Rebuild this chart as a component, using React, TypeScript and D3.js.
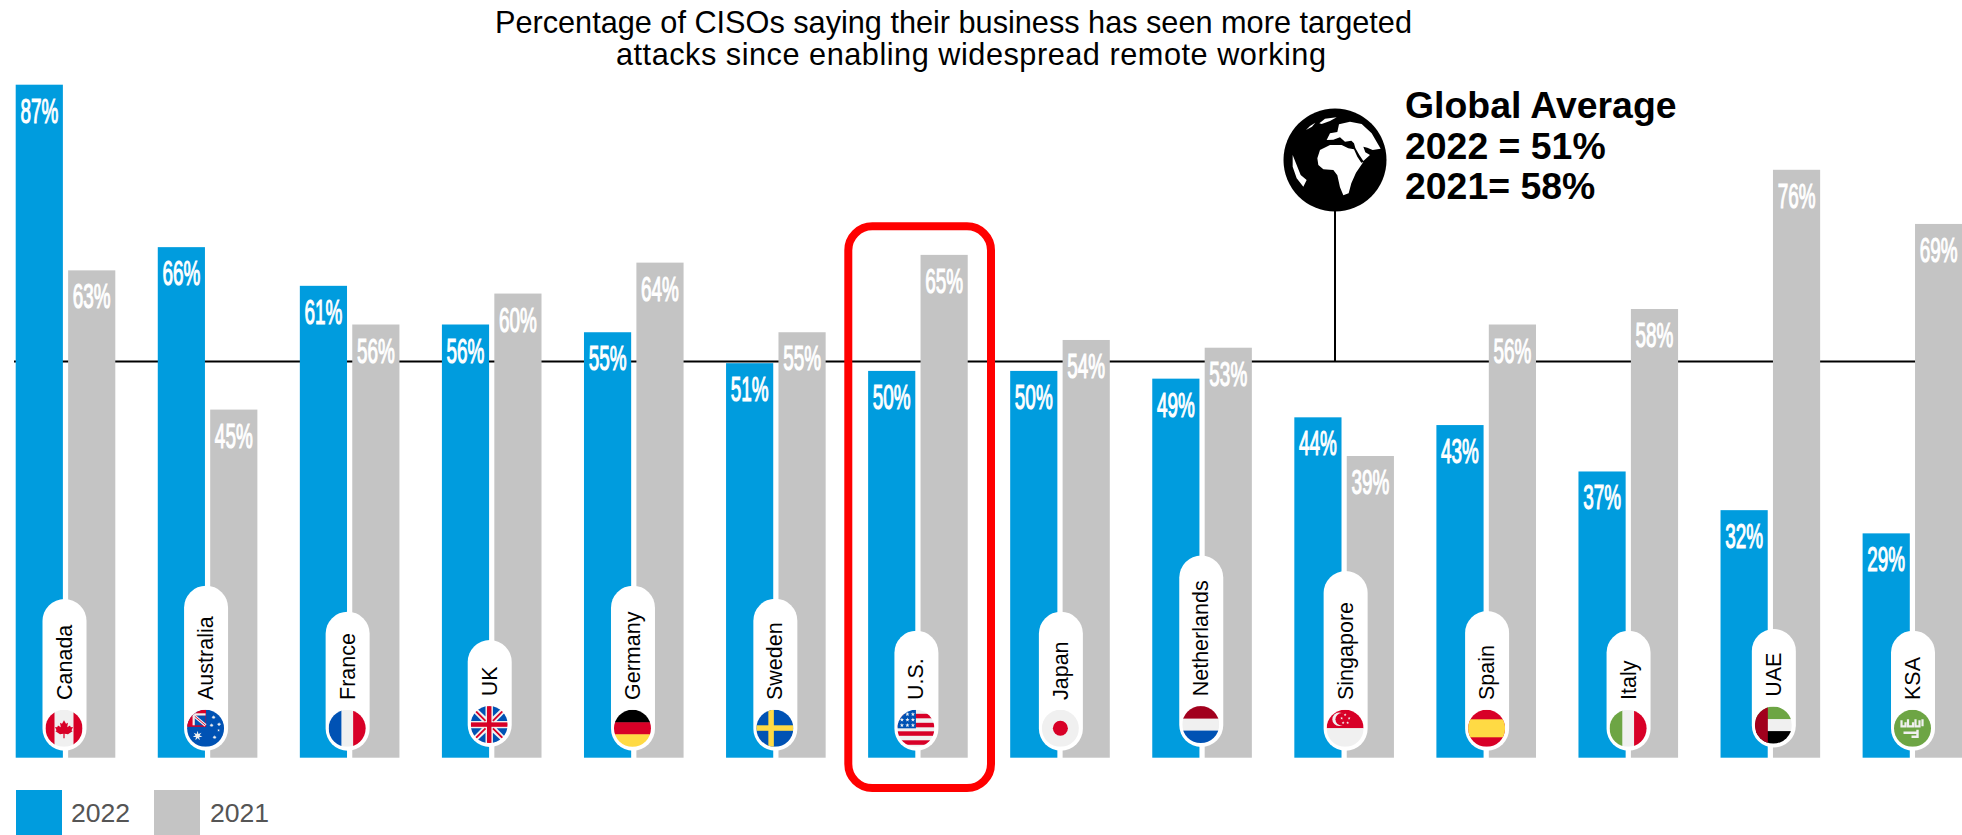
import React from "react";
import * as d3 from "d3";

const countries = ["Canada","Australia","France","UK","Germany","Sweden","U.S.","Japan","Netherlands","Singapore","Spain","Italy","UAE","KSA"];
const values2022 = [87,66,61,56,55,51,50,50,49,44,43,37,32,29];
const values2021 = [63,45,56,60,64,55,65,54,53,39,56,58,76,69];
const seriesNames = ["2022","2021"];
const titleLines = ["Percentage of CISOs saying their business has seen more targeted","attacks since enabling widespread remote working"];
const averageLines = ["Global Average","2022 = 51%","2021= 58%"];

// layout of the title lines and the name pills (not data)
const titleStarts = [495, 616];
const titleWidths = [917, 710];
const pillTops = [599,585.7,611.7,640,585.7,598.7,630.7,611.7,555.6,571,611,630.7,629,630.7];
const pillBottoms = [750.7,750.7,750.7,747,750.7,750.7,750.7,750.7,747,750.7,750.7,750.7,747.5,750.7];
const pillShift = [-1,-1.5,-2,-2,-0.8,-0.5,-1.5,0.9,-0.8,1.5,0.9,0.3,3.5,0.6];

const BLUE = "#009cde", GRAY = "#c4c4c4", SANS = "'Liberation Sans', Arial, sans-serif";
const R = "#d80027", B = "#0052b4", W = "#f0f0f0", Y = "#ffda44", G = "#6da544", DR = "#a2001d";

const xGroup = d3.scaleBand<string>().domain(countries).range([15.7, 15.7 + 142.07 * 14]).paddingInner(0).align(0);
const xInner = d3.scaleBand<string>().domain(seriesNames).range([0, 99.6]).paddingInner(0.1);
const y = d3.scaleLinear().domain([0, 87]).range([757.7, 84.7]);
const avgY = 361.6;

const Rc = (x:number,y:number,w:number,h:number,f:string) => <rect x={x} y={y} width={w} height={h} fill={f}/>;
const star = (cx:number,cy:number,r:number,n=5) => {
  const pts = d3.range(n*2).map(i=>{const a=-Math.PI/2+i*Math.PI/n;const q=i%2?r*0.42:r;return `${cx+q*Math.cos(a)},${cy+q*Math.sin(a)}`;}).join(" ");
  return <polygon points={pts} fill="#f0f0f0"/>;
};
const Jack = ({x,y,w,h}:{x:number,y:number,w:number,h:number}) => {
  const s = Math.min(w,h);
  return <g>
    {Rc(x,y,w,h,W)}
    <polygon points={`${x+w*0.1},${y} ${x+w*0.4},${y} ${x+w*0.4},${y+h*0.28}`} fill={B}/>
    <polygon points={`${x+w*0.6},${y} ${x+w*0.9},${y} ${x+w*0.6},${y+h*0.28}`} fill={B}/>
    <polygon points={`${x+w*0.1},${y+h} ${x+w*0.4},${y+h} ${x+w*0.4},${y+h*0.72}`} fill={B}/>
    <polygon points={`${x+w*0.6},${y+h} ${x+w*0.9},${y+h} ${x+w*0.6},${y+h*0.72}`} fill={B}/>
    <polygon points={`${x},${y+h*0.1} ${x},${y+h*0.4} ${x+w*0.3},${y+h*0.4}`} fill={B}/>
    <polygon points={`${x},${y+h*0.9} ${x},${y+h*0.6} ${x+w*0.3},${y+h*0.6}`} fill={B}/>
    <polygon points={`${x+w},${y+h*0.1} ${x+w},${y+h*0.4} ${x+w*0.7},${y+h*0.4}`} fill={B}/>
    <polygon points={`${x+w},${y+h*0.9} ${x+w},${y+h*0.6} ${x+w*0.7},${y+h*0.6}`} fill={B}/>
    <path d={`M${x},${y} L${x+w*0.4},${y+h*0.4} M${x+w},${y} L${x+w*0.6},${y+h*0.4} M${x},${y+h} L${x+w*0.4},${y+h*0.6} M${x+w},${y+h} L${x+w*0.6},${y+h*0.6}`} stroke={R} strokeWidth={s*0.05}/>
    {Rc(x+w*0.44,y,w*0.12,h,R)}
    {Rc(x,y+h*0.44,w,h*0.12,R)}
  </g>;
};
const r = 18.5;
const flags: Record<string,React.ReactNode> = {
  Canada: <g>{Rc(-r,-r,37,37,W)}{Rc(-r,-r,9,37,R)}{Rc(r-9,-r,9,37,R)}
    <path d="M0,-8 L2,-4.5 L4,-5.5 L3.2,-1 L6,-2.8 L6.8,-1 L9,-1.2 L7.5,2 L8.5,3 L4,6 L0.6,5.5 L0.6,10 L-0.6,10 L-0.6,5.5 L-4,6 L-8.5,3 L-7.5,2 L-9,-1.2 L-6.8,-1 L-6,-2.8 L-3.2,-1 L-4,-5.5 L-2,-4.5 Z" fill={R}/></g>,
  Australia: <g>{Rc(-r,-r,37,37,B)}
    {Rc(-r,-r,19,r-1.5,R)}
    {Rc(-11,-13,11,10,B)}
    <path d="M-12,-13 L0,-3" stroke={W} strokeWidth={3}/>
    <path d="M-12,-13 L0,-3" stroke={R} strokeWidth={0.9}/>
    {Rc(-11,-15,11,2.2,W)}{Rc(-13,-15,2.2,12,W)}
    {star(-8,7.5,5,7)}{star(8,-11,2.2,7)}{star(13.5,-4,2.2,7)}{star(6,-3,2.2,7)}{star(9,9,2.2,7)}{star(13,2,1.4,5)}</g>,
  France: <g>{Rc(-r,-r,13,37,B)}{Rc(-5.5,-r,12,37,W)}{Rc(6,-r,13,37,R)}</g>,
  UK: <Jack x={-r} y={-r} w={37} h={37}/>,
  Germany: <g>{Rc(-r,-r,37,13,"#000")}{Rc(-r,-6,37,12.5,R)}{Rc(-r,6,37,13,Y)}</g>,
  Sweden: <g>{Rc(-r,-r,37,37,B)}{Rc(-6.5,-r,5.5,37,Y)}{Rc(-r,-3,37,5.5,Y)}</g>,
  "U.S.": <g>{Rc(-r,-r,37,37,W)}
    {[-14.5,-5.5,3,12].map(v=><React.Fragment key={v}>{Rc(-r,v,37,4.5,R)}</React.Fragment>)}
    {Rc(-r,-r,18.5,18.5,B)}
    {d3.range(3).flatMap(a=>d3.range(3).map(b=><React.Fragment key={a+"-"+b}>{star(-14+b*5.5,-14+a*5.5,2.2)}</React.Fragment>))}</g>,
  Japan: <g>{Rc(-r,-r,37,37,W)}<circle r={7.5} fill={R}/></g>,
  Netherlands: <g>{Rc(-r,-r,37,13,DR)}{Rc(-r,-6,37,12.5,W)}{Rc(-r,6,37,13,B)}</g>,
  Singapore: <g>{Rc(-r,-r,37,18.5,R)}{Rc(-r,0,37,18.5,W)}
    <circle cx={-6} cy={-9} r={6.8} fill={W}/><circle cx={-3.5} cy={-9} r={6.2} fill={R}/>
    {star(0,-13.5,1.5)}{star(-3.5,-10,1.5)}{star(4,-10,1.5)}{star(-2,-5.5,1.5)}{star(2.5,-5.5,1.5)}</g>,
  Spain: <g>{Rc(-r,-r,37,37,R)}{Rc(-r,-9,37,18,Y)}</g>,
  Italy: <g>{Rc(-r,-r,13,37,G)}{Rc(-5.5,-r,12,37,W)}{Rc(6,-r,13,37,R)}</g>,
  UAE: <g>{Rc(-r,-r,37,13,G)}{Rc(-r,-6,37,12.5,W)}{Rc(-r,6,37,13,"#000")}{Rc(-r,-r,13,37,DR)}</g>,
  KSA: <g>{Rc(-r,-r,37,37,G)}
    <path d="M-11,-8 V-2 H-7 V-6 M-4.5,-9 V-2 H0.5 V-6 M3,-9 V-2 H7 V-8 M10,-9 V-2" fill="none" stroke={W} strokeWidth={2.2}/>
    <path d="M-9,4.5 H5" stroke={W} strokeWidth={2.6}/>
    <path d="M5,1.5 V8.5 H-1" fill="none" stroke={W} strokeWidth={2.4}/></g>,
};

// continents of the globe icon, traced on a 3x grid whose origin is the globe's top-left offset
const globeLand = [
  "M112,175 L120,150 L150,135 L185,135 L205,145 L222,148 L232,170 L244,188 L250,186 L228,218 L214,250 L206,280 L190,286 L180,262 L172,226 L160,210 L130,208 L115,195 Z",
  "M140,120 L150,100 L172,96 L177,73 L210,65 L245,72 L275,100 L302,146 L278,150 L262,143 L250,140 L256,157 L270,165 L250,183 L238,165 L226,144 L222,130 L214,122 L195,125 L180,112 L160,119 Z",
  "M38,165 L50,195 L62,225 L80,240 L70,260 L50,235 L38,200 Z",
  "M118,70 L135,56 L170,52 L150,63 L125,72 Z",
  "M78,90 L90,78 L106,68 L96,80 Z",
];

export default function App() {
  return (
    <svg width={1962} height={835} viewBox="0 0 1962 835" style={{position:"absolute",left:0,top:0,background:"#fff"}} fontFamily={SANS}>
      <defs><clipPath id="fc"><circle r={r}/></clipPath></defs>
      <g fontSize={30.7} fill="#000">
        {titleLines.map((t,i)=><text key={t} x={titleStarts[i]} y={33+i*32} textLength={titleWidths[i]} lengthAdjust="spacing">{t}</text>)}
      </g>
      <line x1={14} x2={1962} y1={avgY} y2={avgY} stroke="#000" strokeWidth={2}/>
      <line x1={1335} x2={1335} y1={200} y2={avgY} stroke="#000" strokeWidth={2}/>
      <g transform="translate(1335,160)">
        <circle r={51.5} fill="#000"/>
        <g transform="translate(-55,-60) scale(0.3333)">
          {globeLand.map((d,i)=><path key={i} d={d} fill="#fff"/>)}
        </g>
      </g>
      <g fontSize={37.4} fontWeight={700} fill="#000">
        {averageLines.map((t,i)=><text key={t} x={1405} y={118+i*40.7}>{t}</text>)}
      </g>
      {countries.map((c,i)=>{
        const gx = xGroup(c)!;
        return <g key={c}>
          {seriesNames.map((s,k)=>{
            const v = (k===0?values2022:values2021)[i];
            const bx = gx + xInner(s)!, bw = xInner.bandwidth();
            return <g key={s}>
              <rect x={bx} y={y(v)} width={bw} height={y(0)-y(v)} fill={k===0?BLUE:GRAY}/>
              <text transform={`translate(${bx+bw/2},${y(v)+38}) scale(0.54,1)`} textAnchor="middle" fontSize={35} fill="#fff" stroke="#fff" strokeWidth={1.2}>{v}%</text>
            </g>;
          })}
        </g>;
      })}
      {countries.map((c,i)=>{
        const cx = xGroup(c)! + 49.8 + pillShift[i];
        const top = pillTops[i], bot = pillBottoms[i];
        return <g key={c}>
          <rect x={cx-22} y={top} width={44} height={bot-top} rx={22} fill="#fff"/>
          <text transform={`translate(${cx+7},${bot-50.7}) rotate(-90)`} fontSize={21.5} fill="#000">{c}</text>
          <g transform={`translate(${cx-0.5},${bot-22.4})`}><g clipPath="url(#fc)">{flags[c]}</g></g>
        </g>;
      })}
      <rect x={848.3} y={226.3} width={142.7} height={561.7} rx={24} fill="none" stroke="#ff0000" strokeWidth={8}/>
      {seriesNames.map((s,i)=><g key={s}>
        <rect x={16+i*138} y={790} width={46} height={45} fill={i===0?BLUE:GRAY}/>
        <text x={71+i*139} y={821.7} fontSize={26.6} fill="#555">{s}</text>
      </g>)}
    </svg>
  );
}
